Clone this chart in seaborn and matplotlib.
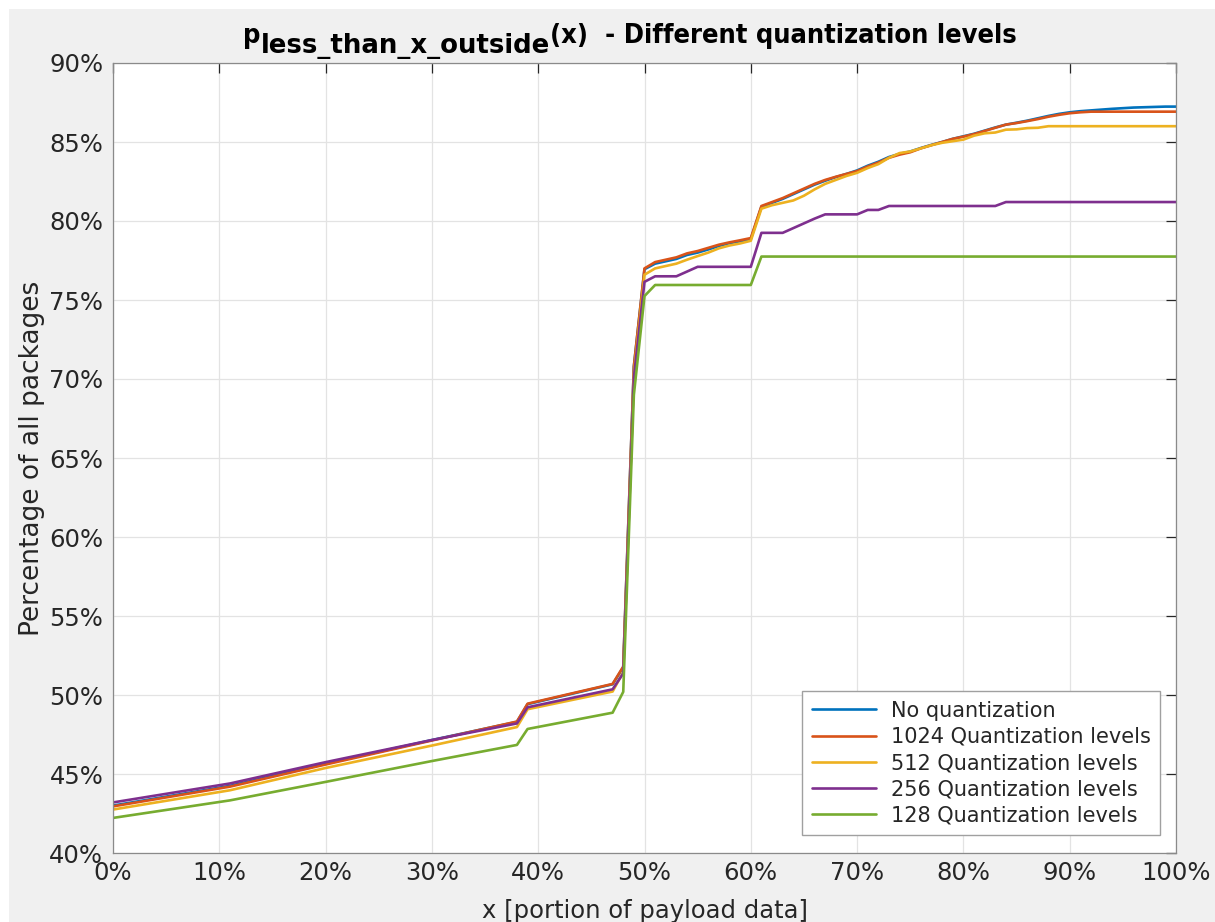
import matplotlib
matplotlib.use("Agg")
import matplotlib.pyplot as plt
import seaborn as sns
import pandas as pd
from matplotlib.patches import Rectangle

# ---------------- data ----------------
x_pct = [0, 11, 20, 30, 38, 39, 47, 48, 49,
         50, 51, 52, 53, 54, 55, 56, 57, 58, 59, 60,
         61, 62, 63, 64, 65, 66, 67, 68, 69, 70,
         71, 72, 73, 74, 75, 76, 77, 78, 79, 80,
         81, 82, 83, 84, 85, 86, 87, 88, 89, 90,
         91, 92, 93, 94, 95, 96, 97, 98, 99, 100]

no_quant = [43.0, 44.25, 45.65, 47.15, 48.3, 49.42, 50.68, 51.75, 70.8,
            76.95, 77.3, 77.45, 77.6, 77.85, 78.0, 78.2, 78.42, 78.6, 78.72, 78.85,
            80.9, 81.15, 81.4, 81.7, 82.0, 82.3, 82.55, 82.78, 82.98, 83.2,
            83.5, 83.75, 84.05, 84.25, 84.4, 84.62, 84.82, 85.0, 85.2, 85.36,
            85.52, 85.72, 85.92, 86.1, 86.22, 86.35, 86.5, 86.65, 86.78, 86.88,
            86.95, 87.0, 87.05, 87.1, 87.14, 87.18, 87.2, 87.22, 87.24, 87.24]

q1024 = [42.95, 44.2, 45.6, 47.12, 48.32, 49.45, 50.7, 51.8, 70.8,
         77.0, 77.4, 77.55, 77.7, 77.95, 78.1, 78.3, 78.5, 78.65, 78.78, 78.92,
         80.95, 81.2, 81.45, 81.75, 82.05, 82.35, 82.6, 82.8, 82.98, 83.16,
         83.45, 83.7, 84.0, 84.2, 84.35, 84.6, 84.8, 85.0, 85.2, 85.34,
         85.5, 85.7, 85.9, 86.1, 86.2, 86.32, 86.45, 86.6, 86.72, 86.82,
         86.88, 86.92, 86.92, 86.92, 86.92, 86.92, 86.92, 86.92, 86.92, 86.92]

q512 = [42.75, 43.97, 45.38, 46.8, 47.97, 49.1, 50.22, 51.45, 70.3,
        76.6, 77.0, 77.15, 77.3, 77.55, 77.78, 78.0, 78.27, 78.45, 78.58, 78.75,
        80.78, 81.0, 81.15, 81.3, 81.6, 82.0, 82.35, 82.6, 82.85, 83.05,
        83.35, 83.6, 84.0, 84.3, 84.4, 84.6, 84.8, 84.95, 85.05, 85.15,
        85.4, 85.55, 85.6, 85.78, 85.8, 85.88, 85.9, 86.0, 86.0, 86.0,
        86.0, 86.0, 86.0, 86.0, 86.0, 86.0, 86.0, 86.0, 86.0, 86.0]

q256 = [43.2, 44.4, 45.75, 47.15, 48.2, 49.22, 50.36, 51.37, 70.1,
        76.15, 76.5, 76.5, 76.5, 76.8, 77.1, 77.1, 77.1, 77.1, 77.1, 77.1,
        79.25, 79.25, 79.25, 79.55, 79.85, 80.15, 80.42, 80.42, 80.42, 80.42,
        80.7, 80.7, 80.95, 80.95, 80.95, 80.95, 80.95, 80.95, 80.95, 80.95,
        80.95, 80.95, 80.95, 81.2, 81.2, 81.2, 81.2, 81.2, 81.2, 81.2,
        81.2, 81.2, 81.2, 81.2, 81.2, 81.2, 81.2, 81.2, 81.2, 81.2]

q128 = [42.22, 43.33, 44.5, 45.82, 46.84, 47.85, 48.88, 50.2, 69.0,
        75.25, 75.95, 75.95, 75.95, 75.95, 75.95, 75.95, 75.95, 75.95, 75.95, 75.95,
        77.75, 77.75, 77.75, 77.75, 77.75, 77.75, 77.75, 77.75, 77.75, 77.75,
        77.75, 77.75, 77.75, 77.75, 77.75, 77.75, 77.75, 77.75, 77.75, 77.75,
        77.75, 77.75, 77.75, 77.75, 77.75, 77.75, 77.75, 77.75, 77.75, 77.75,
        77.75, 77.75, 77.75, 77.75, 77.75, 77.75, 77.75, 77.75, 77.75, 77.75]

series_names = ["No quantization", "1024 Quantization levels", "512 Quantization levels",
                "256 Quantization levels", "128 Quantization levels"]
series_values = [no_quant, q1024, q512, q256, q128]
series_colors = ["#0072BD", "#D95319", "#EDB120", "#7E2F8E", "#77AC30"]

x_ticks = [0, 10, 20, 30, 40, 50, 60, 70, 80, 90, 100]
y_ticks = [40, 45, 50, 55, 60, 65, 70, 75, 80, 85, 90]

title_parts = ["p", "less_than_x_outside", "(x)  - Different quantization levels"]

# ---------------- build table ----------------
rows = []
for name, vals in zip(series_names, series_values):
    assert len(vals) == len(x_pct)
    for xv, yv in zip(x_pct, vals):
        rows.append({"x": xv, "y": yv, "series": name})
df = pd.DataFrame(rows)

sns.set_style("white")
plt.rcParams["font.family"] = ["DejaVu Sans"]

W, H = 1215, 922
fig = plt.figure(figsize=(W / 100, H / 100), dpi=100)
fig.patch.set_facecolor("white")
fig.add_artist(Rectangle((9 / W, 0), 1 - 9 / W, 1 - 9 / H,
                         transform=fig.transFigure, facecolor="#f0f0f0",
                         edgecolor="none", zorder=-10))

ax = fig.add_axes([113 / W, 1 - 853 / H, (1176 - 113) / W, (853 - 63) / H])
ax.set_facecolor("white")

sns.lineplot(data=df, x="x", y="y", hue="series", hue_order=series_names,
             palette=dict(zip(series_names, series_colors)), linewidth=1.9,
             estimator=None, sort=True, ax=ax)

ax.set_xlim(0, 100)
ax.set_ylim(40, 90)
ax.set_xticks(x_ticks)
ax.set_xticklabels([f"{v}%" for v in x_ticks])
ax.set_yticks(y_ticks)
ax.set_yticklabels([f"{v}%" for v in y_ticks])

ax.grid(True, color="#e3e3e3", linewidth=0.9)
ax.set_axisbelow(True)
for s in ax.spines.values():
    s.set_visible(True)
    s.set_color("#8a8a8a")
    s.set_linewidth(0.9)

ax.tick_params(axis="both", which="both", direction="in", length=7, width=0.9,
               color="#262626", labelcolor="#262626", labelsize=17.5,
               top=True, right=True)
ax.tick_params(axis="x", pad=6)
ax.tick_params(axis="y", pad=7)

ax.set_xlabel("x [portion of payload data]", fontsize=17.5, color="#262626", labelpad=10)
ax.set_ylabel("Percentage of all packages", fontsize=19, color="#262626", labelpad=3)

# ---- title: p with a near-full-size subscript, MATLAB style ----
renderer = fig.canvas.get_renderer()
base_y = H - 43
sub_drop = 10
part_sizes = [19.5, 18.7, 19.5]
part_stretch = ["condensed", "normal", "condensed"]
texts = []
cur_x = 0.0
for i, part in enumerate(title_parts):
    yy = base_y - (sub_drop if i == 1 else 0)
    t = fig.text(cur_x / W, yy / H, part, fontsize=part_sizes[i], fontweight="bold",
                 fontstretch=part_stretch[i], color="black", va="baseline", ha="left")
    bb = t.get_window_extent(renderer)
    cur_x = bb.x1 + (1 if i == 0 else 0)
    texts.append(t)
total_w = cur_x
shift = 630 - total_w / 2
for t in texts:
    px, py = t.get_position()
    t.set_position((px + shift / W, py))

leg = ax.legend(loc="lower right",
                bbox_to_anchor=((1160 - 113) / 1063, (853 - 835) / 790),
                borderaxespad=0, fontsize=15, frameon=True, fancybox=False,
                framealpha=1, edgecolor="#a0a0a0", labelspacing=0.3,
                handlelength=3.1, handletextpad=0.7, borderpad=0.45,
                title=None)
leg.get_frame().set_linewidth(1.0)
for t in leg.get_texts():
    t.set_color("#262626")

fig.savefig("out.png", dpi=100, facecolor=fig.get_facecolor())
